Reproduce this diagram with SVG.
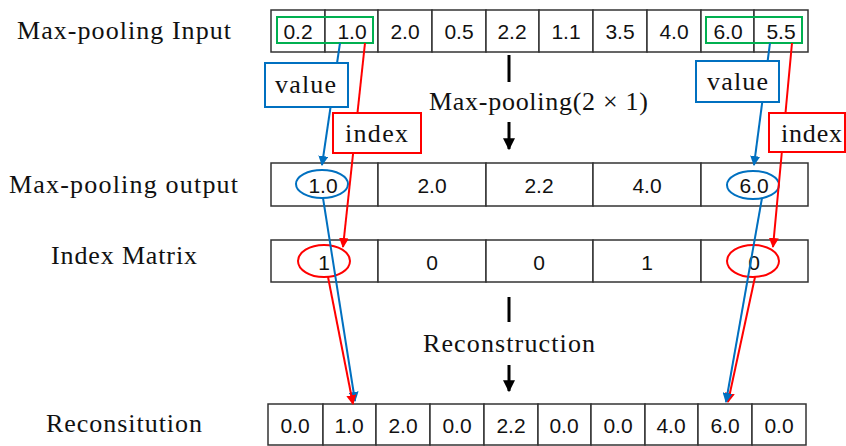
<svg xmlns="http://www.w3.org/2000/svg" width="846" height="446" viewBox="0 0 846 446">
<style>
.cell{fill:#fff;stroke:#333;stroke-width:1.5}
.num{font-family:"Liberation Sans",Arial,sans-serif;font-size:21px;fill:#111;text-anchor:middle}
.lbl{font-family:"Liberation Serif","Times New Roman",serif;font-size:26px;fill:#111}
.tag{font-family:"Liberation Serif","Times New Roman",serif;font-size:26px;fill:#111}
.bl{stroke:#0070C0;stroke-width:2;fill:none}
.rd{stroke:#FF0000;stroke-width:2;fill:none}
.gr{stroke:#00B050;stroke-width:2;fill:none}
.blbox{fill:#fff;stroke:#0070C0;stroke-width:2}
.rdbox{fill:#fff;stroke:#FF0000;stroke-width:2}
.blk{stroke:#000;stroke-width:3}
</style>
<defs>
<marker id="mb" markerUnits="userSpaceOnUse" markerWidth="10" markerHeight="10" viewBox="0 0 10 10" refX="9" refY="5" orient="auto"><path d="M0,0 L10,5 L0,10 z" fill="#0070C0"/></marker>
<marker id="mr" markerUnits="userSpaceOnUse" markerWidth="10" markerHeight="10" viewBox="0 0 10 10" refX="9" refY="5" orient="auto"><path d="M0,0 L10,5 L0,10 z" fill="#FF0000"/></marker>
<marker id="mk" markerUnits="userSpaceOnUse" markerWidth="12" markerHeight="12" viewBox="0 0 10 10" refX="9" refY="5" orient="auto"><path d="M0,0 L10,5 L0,10 z" fill="#000"/></marker>
</defs>
<rect width="846" height="446" fill="#fff"/>

<g id="labels">
<text class="lbl" x="17" y="39" textLength="214">Max-pooling Input</text>
<text class="lbl" x="9" y="193" textLength="229">Max-pooling output</text>
<text class="lbl" x="51" y="264" textLength="146">Index Matrix</text>
<text class="lbl" x="46" y="432" textLength="156">Reconsitution</text>
</g>

<g id="input-row">
<rect class="cell" x="271" y="10" width="54" height="42"/>
<rect class="cell" x="325" y="10" width="53" height="42"/>
<rect class="cell" x="378" y="10" width="54" height="42"/>
<rect class="cell" x="432" y="10" width="54" height="42"/>
<rect class="cell" x="486" y="10" width="53" height="42"/>
<rect class="cell" x="539" y="10" width="54" height="42"/>
<rect class="cell" x="593" y="10" width="54" height="42"/>
<rect class="cell" x="647" y="10" width="54" height="42"/>
<rect class="cell" x="701" y="10" width="53" height="42"/>
<rect class="cell" x="754" y="10" width="54" height="42"/>
<text class="num" x="298" y="39">0.2</text>
<text class="num" x="352" y="39">1.0</text>
<text class="num" x="405" y="39">2.0</text>
<text class="num" x="459" y="39">0.5</text>
<text class="num" x="512" y="39">2.2</text>
<text class="num" x="566" y="39">1.1</text>
<text class="num" x="620" y="39">3.5</text>
<text class="num" x="674" y="39">4.0</text>
<text class="num" x="728" y="39">6.0</text>
<text class="num" x="781" y="39">5.5</text>
<rect class="gr" x="277" y="17" width="96" height="26"/>
<rect class="gr" x="706" y="17" width="96" height="26"/>
</g>

<g id="output-row">
<rect class="cell" x="271" y="163" width="107" height="43"/>
<rect class="cell" x="378" y="163" width="108" height="43"/>
<rect class="cell" x="486" y="163" width="107" height="43"/>
<rect class="cell" x="593" y="163" width="108" height="43"/>
<rect class="cell" x="701" y="163" width="107" height="43"/>
<text class="num" x="323" y="193">1.0</text>
<text class="num" x="432" y="193">2.0</text>
<text class="num" x="539" y="193">2.2</text>
<text class="num" x="647" y="193">4.0</text>
<text class="num" x="754" y="193">6.0</text>
<ellipse class="bl" cx="322" cy="184" rx="26" ry="14"/>
<ellipse class="bl" cx="753" cy="185" rx="26" ry="14"/>
</g>

<g id="index-row">
<rect class="cell" x="271" y="240" width="107" height="42"/>
<rect class="cell" x="378" y="240" width="108" height="42"/>
<rect class="cell" x="486" y="240" width="107" height="42"/>
<rect class="cell" x="593" y="240" width="108" height="42"/>
<rect class="cell" x="701" y="240" width="107" height="42"/>
<text class="num" x="324" y="270">1</text>
<text class="num" x="432" y="270">0</text>
<text class="num" x="539" y="270">0</text>
<text class="num" x="647" y="270">1</text>
<text class="num" x="754" y="270">0</text>
<ellipse class="rd" cx="324" cy="261" rx="26" ry="16"/>
<ellipse class="rd" cx="753" cy="261" rx="26" ry="16"/>
</g>

<g id="recon-row">
<rect class="cell" x="268" y="404" width="55" height="41"/>
<rect class="cell" x="323" y="404" width="53" height="41"/>
<rect class="cell" x="376" y="404" width="54" height="41"/>
<rect class="cell" x="430" y="404" width="54" height="41"/>
<rect class="cell" x="484" y="404" width="54" height="41"/>
<rect class="cell" x="538" y="404" width="53" height="41"/>
<rect class="cell" x="591" y="404" width="54" height="41"/>
<rect class="cell" x="645" y="404" width="53" height="41"/>
<rect class="cell" x="698" y="404" width="54" height="41"/>
<rect class="cell" x="752" y="404" width="54" height="41"/>
<text class="num" x="295" y="433">0.0</text>
<text class="num" x="349" y="433">1.0</text>
<text class="num" x="403" y="433">2.0</text>
<text class="num" x="457" y="433">0.0</text>
<text class="num" x="511" y="433">2.2</text>
<text class="num" x="564" y="433">0.0</text>
<text class="num" x="618" y="433">0.0</text>
<text class="num" x="671" y="433">4.0</text>
<text class="num" x="725" y="433">6.0</text>
<text class="num" x="779" y="433">0.0</text>
</g>

<g id="connectors">
<line class="bl" x1="340" y1="43" x2="322" y2="165" marker-end="url(#mb)"/>
<line class="rd" x1="365" y1="43" x2="343" y2="247" marker-end="url(#mr)"/>
<line class="bl" x1="323" y1="198" x2="355" y2="401" marker-end="url(#mb)"/>
<line class="rd" x1="328" y1="277" x2="353" y2="404" marker-end="url(#mr)"/>
<line class="bl" x1="770" y1="43" x2="754" y2="165" marker-end="url(#mb)"/>
<line class="rd" x1="792" y1="43" x2="773" y2="247" marker-end="url(#mr)"/>
<line class="rd" x1="755" y1="277" x2="728" y2="402" marker-end="url(#mr)"/>
<line class="bl" x1="762" y1="198" x2="726" y2="402" marker-end="url(#mb)"/>
<line class="blk" x1="509" y1="55" x2="509" y2="82"/>
<line class="blk" x1="509" y1="122" x2="509" y2="149" stroke-width="2" marker-end="url(#mk)"/>
<line class="blk" x1="509" y1="297" x2="509" y2="322"/>
<line class="blk" x1="509" y1="365" x2="509" y2="391" stroke-width="2" marker-end="url(#mk)"/>
</g>

<g id="value-left">
<rect class="blbox" x="265" y="63" width="83" height="44"/>
<text class="tag" x="275" y="93" textLength="61">value</text>
</g>
<g id="index-left">
<rect class="rdbox" x="333" y="113" width="88" height="40"/>
<text class="tag" x="345" y="142" textLength="63">index</text>
</g>
<g id="value-right">
<rect class="blbox" x="696" y="61" width="83" height="41"/>
<text class="tag" x="707" y="90" textLength="61">value</text>
</g>
<g id="index-right">
<rect class="rdbox" x="769" y="113" width="76" height="39"/>
<text class="tag" x="781" y="142" textLength="61">index</text>
</g>

<g id="step-labels">
<text class="lbl" x="429" y="110" textLength="219">Max-pooling(2 × 1)</text>
<text class="lbl" x="423" y="352" textLength="172">Reconstruction</text>
</g>
</svg>
